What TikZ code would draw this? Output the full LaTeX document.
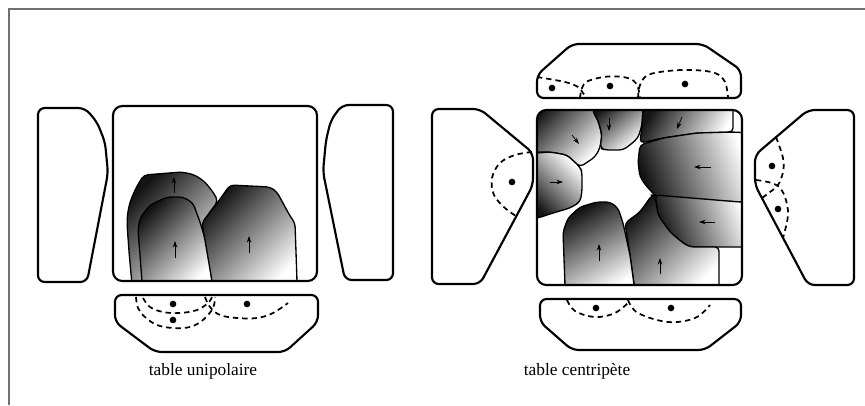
\documentclass[tikz,border=0pt]{standalone}
\usepackage{fontspec}
\setmainfont{Liberation Serif}
\usetikzlibrary{arrows.meta}
\definecolor{framegray}{RGB}{112,112,112}
\tikzset{
 panel/.style={draw, line width=1.6pt, rounded corners=5pt, line join=round},
 tab/.style={draw, line width=1pt, rounded corners=3pt, top color=black!92, bottom color=white, line join=round},
 dsh/.style={line width=1.3pt, dash pattern=on 4pt off 3pt},
 dotm/.style={fill=black, circle, inner sep=0pt, minimum size=5pt},
 mv/.style={line width=0.55pt, draw=black, -{Stealth[length=5pt,width=3.4pt]}},
 lbl/.style={font=\fontsize{13}{15}\selectfont, inner sep=0pt},
 frameline/.style={draw=framegray, line width=1.5pt}
}
\begin{document}
\begin{tikzpicture}[x=0.75pt,y=-0.75pt]
\useasboundingbox (0,0) rectangle (865,405);
\draw[frameline] (9,405) -- (9,9) -- (865,9);

% ===== left figure: table unipolaire =====
\draw[panel] (38,195) -- (38,108) -- (85,108) -- (97,122) -- (105,142) -- (108,173) -- (87,282) -- (38,282) -- cycle;
\draw[panel] (393,192) -- (393,105) -- (342,105) -- (331,120) -- (326,140) -- (323,172) -- (345,280) -- (393,280) -- cycle;
\begin{scope}
\clip[rounded corners=7pt] (113,106) rectangle (317,281);
\path[tab, shading angle=45] (131.7,290) -- (131.7,281) -- (129.3,255) -- (127.3,228) -- (127.3,215) -- (130,202) -- (135,190) -- (140,181) -- (144,175) -- (182,172) -- (195,175) -- (205,182) -- (213,192) -- (218,201) -- (202,223) -- (212,281) -- (212,290) -- cycle;
\path[tab, shading angle=45] (142,290) -- (142,281) -- (138,230) -- (140,218) -- (150,205) -- (167,197) -- (183,197) -- (193,203) -- (200,222) -- (207,245) -- (212,281) -- (212,290) -- cycle;
\path[tab, shading angle=45] (212,290) -- (212,281) -- (202,223) -- (218,202) -- (230,185) -- (270,187) -- (277,192) -- (290,216) -- (295,223) -- (297,281) -- (297,290) -- cycle;
\end{scope}
\draw[panel, rounded corners=7pt] (113,106) rectangle (317,281);
\draw[mv] (174,193) -- (174,177);
\draw[mv] (175,258) -- (175,241);
\draw[mv] (249,253) -- (249,236);

\draw[panel] (216,295) -- (318,295) -- (318,322) -- (285,352) -- (155,352) -- (115,322) -- (115,295) -- cycle;
\draw[dsh] plot[smooth, tension=0.6] coordinates {(143,298) (150,307) (163,312) (180,313) (197,310) (208,303) (212,297)};
\draw[dsh] plot[smooth, tension=0.6] coordinates {(136,297) (138,308) (145,317) (157,325) (173,328) (190,327) (203,320) (213,308) (215,297)};
\draw[dsh] plot[smooth, tension=0.6] coordinates {(205,297) (210,307) (220,315) (237,318) (257,318) (273,313) (288,303)};
\node[dotm] (u1) at (173,304) {};
\node[dotm] (u2) at (173,320) {};
\node[dotm] (u3) at (247,304) {};

\node[lbl, anchor=base] (lab1) at (203,375) {table unipolaire};

% ===== right figure: table centripete =====
\draw[panel] (640,98) -- (537,98) -- (537,75) -- (572,44) -- (703,44) -- (741,70) -- (741,98) -- cycle;
\draw[dsh] plot[smooth, tension=0.6] coordinates {(537,77) (565,82) (578,87) (583,93) (587,98)};
\draw[dsh] plot[smooth, tension=0.6] coordinates {(580,98) (582,88) (588,81) (608,76.5) (628,78) (637,85) (640,98)};
\draw[dsh] plot[smooth, tension=0.6] coordinates {(638,98) (640,85) (648,75) (668,71) (692,70) (715,73) (725,82) (728,97)};
\node[dotm] (c1) at (552,88) {};
\node[dotm] (c2) at (610,86) {};
\node[dotm] (c3) at (685,84) {};

\draw[panel] (432,200) -- (432,109) -- (480,109) -- (533,153) -- (533,185) -- (480,284) -- (432,284) -- cycle;
\draw[dsh] plot[smooth, tension=0.6] coordinates {(532,152) (515,155) (500,163) (492,178) (494,195) (505,208) (516,216)};
\node[dotm] (c4) at (512,182) {};

\draw[panel] (854,198) -- (854,110) -- (808,110) -- (755,155) -- (755,185) -- (808,285) -- (854,285) -- cycle;
\draw[dsh] plot[smooth, tension=0.6] coordinates {(776,137) (783,158) (783,172) (778,185) (770,192) (762,198)};
\draw[dsh] plot[smooth, tension=0.6] coordinates {(756,180) (768,182) (778,186) (785,197) (788,215) (783,238)};
\node[dotm] (c5) at (772,166) {};
\node[dotm] (c6) at (778,209) {};

\draw[panel] (640,299) -- (741,299) -- (741,322) -- (705,350) -- (572,350) -- (540,322) -- (540,299) -- cycle;
\draw[dsh] plot[smooth, tension=0.6] coordinates {(567,300) (575,311) (595,317) (615,313) (630,301)};
\draw[dsh] plot[smooth, tension=0.6] coordinates {(628,300) (638,313) (668,322) (695,318) (710,305)};
\node[dotm] (c7) at (596,308) {};
\node[dotm] (c8) at (671,308) {};

\begin{scope}
\clip[rounded corners=7pt] (537,110) rectangle (742,285);
% T1
\path[tab, shading angle=45] (530,103) -- (593,103) -- (593,112) -- (598,120) -- (602,135) -- (600,148) -- (595,157) -- (580,167) -- (567,155) -- (550,152) -- (530,152) -- cycle;
% T2
\path[tab, shading angle=40] (593,103) -- (593,112) -- (598,120) -- (602,135) -- (600,148) -- (605,150) -- (623,150) -- (630,145) -- (638,138) -- (642,125) -- (643,110) -- (643,103) -- cycle;
% T3
\path[tab, shading angle=60] (643,103) -- (643,110) -- (642,125) -- (640,143) -- (663,138) -- (697,133) -- (733,132) -- (733,103) -- cycle;
% T4
\path[tab, shading angle=110] (640,145) -- (663,138) -- (697,133) -- (733,132) -- (750,133) -- (750,202) -- (740,202) -- (657,198) -- (653,193) -- (647,187) -- (640,177) -- (638,162) -- cycle;
% T5
\path[tab, shading angle=110] (655,195) -- (740,202) -- (750,202) -- (750,247) -- (690,247) -- (683,243) -- (670,232) -- (658,215) -- cycle;
% T6
\path[tab, shading angle=45] (625,223) -- (640,212) -- (652,195) -- (655,195) -- (658,215) -- (670,232) -- (683,243) -- (690,247) -- (719,247) -- (719,292) -- (635,292) -- (630,255) -- cycle;
% T7
\path[tab, shading angle=30] (565,292) -- (565,285) -- (563,232) -- (568,218) -- (580,207) -- (597,202) -- (610,202) -- (618,208) -- (623,223) -- (630,255) -- (635,292) -- cycle;
% T8
\path[tab, shading angle=135] (530,153) -- (538,153) -- (550,152) -- (567,155) -- (580,167) -- (582,172) -- (582,192) -- (580,202) -- (570,208) -- (553,213) -- (538,218) -- (530,218) -- cycle;
\end{scope}
\draw[panel, rounded corners=7pt] (537,110) rectangle (742,285);
\draw[mv] (572,135) -- (579,144);
\draw[mv] (609,118) -- (609,131);
\draw[mv] (682,117) -- (677,129);
\draw[mv] (711,167) -- (694,167);
\draw[mv] (715,222) -- (699,222);
\draw[mv] (660,274) -- (660,258);
\draw[mv] (599,261) -- (599,244);
\draw[mv] (550,182) -- (563,182);

\node[lbl, anchor=base] (lab2) at (577,375) {table centripète};
\end{tikzpicture}
\end{document}
